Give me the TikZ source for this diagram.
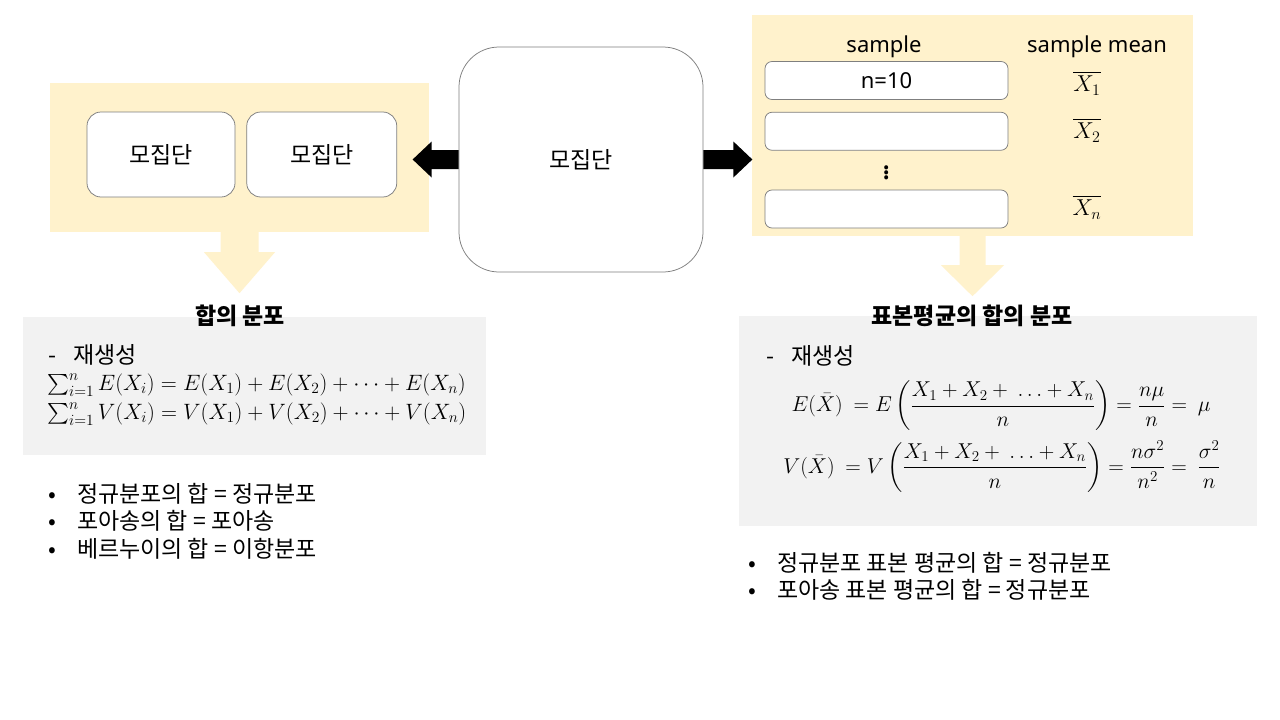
\RequirePackage{fix-cm}
\documentclass[tikz,border=0pt]{standalone}
\usepackage{fontspec}
\usepackage{amsmath}
\setmainfont{Noto Sans CJK KR}
\newfontfamily\latinfont{Noto Sans}
\usetikzlibrary{
  positioning,
  calc}
\definecolor{panelcolor}{RGB}{255,242,204}
\definecolor{notecolor}{RGB}{242,242,242}
\definecolor{edgecolor}{RGB}{127,127,127}
\newcommand{\bodyfont}{\fontsize{23}{27.5}\selectfont}
\newcommand{\formulafont}{\fontsize{21.5}{26}\selectfont}
\newcommand{\samplefont}{\latinfont\fontsize{22}{26}\selectfont}
\tikzset{
  %% panel : yellow background of a group
  panel/.style={
    rectangle,
    fill=panelcolor,
    inner sep=0pt
  },
  %% note : grey background of a result
  note/.style={
    rectangle,
    fill=notecolor,
    inner sep=0pt
  },
  %% popbox : a population
  popbox/.style={
    rectangle,
    rounded corners=14pt,
    draw=edgecolor,
    line width=0.75pt,
    fill=white,
    minimum width=148pt,
    minimum height=85pt,
    font=\bodyfont,
    align=center
  },
  %% samplebox : one sample
  samplebox/.style={
    rectangle,
    rounded corners=7pt,
    draw=edgecolor,
    line width=0.75pt,
    fill=white,
    minimum width=243pt,
    minimum height=38pt,
    font=\samplefont,
    align=center
  },
  %% label : plain text
  label/.style={
    inner sep=0pt,
    font=\bodyfont,
    align=left
  },
  %% formula : a line of mathematics
  formula/.style={
    inner sep=0pt,
    font=\formulafont
  },
  %% heading : title of a result
  heading/.style={
    inner sep=0pt,
    font=\bodyfont\bfseries
  },
  %% blockarrow : thick arrows between the groups
  blockarrow/.style={fill=black},
  flowarrow/.style={fill=panelcolor}
}

\begin{document}
\begin{tikzpicture}
  [x=1pt,
  y=-1pt]

  \useasboundingbox [fill=white] (0,0) rectangle (1280,720);

  %% Population in the middle
  \node (population) [popbox, minimum width=244pt, minimum height=225pt,
    rounded corners=40pt] at (581,159.5) {모집단};

  %% Sum of populations (left)
  \node (sumpanel) [panel, minimum width=379pt, minimum height=149pt]
    at (239.5,157.5) {};
  \node (popa) [popbox] at (161,154.5) {모집단};
  \node (popb) [popbox, right=11pt of popa, minimum width=150pt] {모집단};

  %% Samples (right)
  \node (samplepanel) [panel, minimum width=441pt, minimum height=221pt]
    at (972.5,125.5) {};
  \node (sample1) [samplebox] at (886.5,80.5) {n=10};
  \node (sample2) [samplebox, below=12pt of sample1] {};
  \node (sample3) [samplebox] at (886.5,209) {};
  \node (sampledots) [formula, font=\fontsize{30}{30}\selectfont]
    at (886.5,170) {$\vdots$};
  \node (samplehead) [label, font=\samplefont] at (884,47) {sample};
  \node (meanhead) [label, font=\samplefont] at (1097,47) {sample mean};
  \node (mean1) [formula, font=\fontsize{23}{26}\selectfont]
    at (1087,83) {$\overline{X_1}$};
  \node (mean2) [formula, font=\fontsize{23}{26}\selectfont]
    at (1087,130) {$\overline{X_2}$};
  \node (meann) [formula, font=\fontsize{23}{26}\selectfont]
    at (1087,207) {$\overline{X_n}$};

  %% Arrows
  \fill [blockarrow] ($(population.west)+(0,-9.5)$) -- ++(-27,0) -- ++(0,-8.5)
    -- ++(-19,18) -- ++(19,18) -- ++(0,-8.5) -- ++(27,0) -- cycle;
  \fill [blockarrow] ($(population.east)+(0,-9.5)$) -- ++(30,0) -- ++(0,-8.5)
    -- ++(19,18) -- ++(-19,18) -- ++(0,-8.5) -- ++(-30,0) -- cycle;
  \fill [flowarrow] ($(sumpanel.south)+(-19,0)$) -- ++(0,20) -- ++(-16.5,0)
    -- ++(35.5,41) -- ++(35.5,-41) -- ++(-16.5,0) -- ++(0,-20) -- cycle;
  \fill [flowarrow] ($(samplepanel.south)+(-13,0)$) -- ++(0,29) -- ++(-18.5,0)
    -- ++(31.5,31) -- ++(31.5,-31) -- ++(-18.5,0) -- ++(0,-29) -- cycle;

  %% Result: sum (left)
  \node (sumnote) [note, minimum width=463pt, minimum height=138pt]
    at (254.5,386) {};
  \node (sumhead) [heading] at (240,316) {합의 분포};
  \node (sumrep) [label, anchor=west] at (48,355) {-\hspace{17pt}재생성};
  \node (sumE) [formula, font=\fontsize{22.2}{26}\selectfont, anchor=west]
    at (47,385) {%
    $\sum_{i=1}^{n} E(X_i) = E(X_1) + E(X_2) + \cdots + E(X_n)$};
  \node (sumV) [formula, font=\fontsize{22.2}{26}\selectfont, anchor=west]
    at (47,414) {%
    $\sum_{i=1}^{n} V(X_i) = V(X_1) + V(X_2) + \cdots + V(X_n)$};
  \node (sumlist) [label, anchor=north west] at (48,483) {%
    •\hspace{21pt}정규분포의 합 = 정규분포\\
    •\hspace{21pt}포아송의 합 = 포아송\\
    •\hspace{21pt}베르누이의 합 = 이항분포};

  %% Result: sum of sample means (right)
  \node (meannote) [note, minimum width=518pt, minimum height=210pt]
    at (998,421) {};
  \node (meantitle) [heading] at (972,316) {표본평균의 합의 분포};
  \node (meanrep) [label, anchor=west] at (766,356) {-\hspace{17pt}재생성};
  \node (meanE) [formula] at (1001,406) {%
    $\displaystyle E(\bar{X})\ = E\left(\frac{X_1 + X_2 +\ \ldots + X_n}{n}\right)
    = \frac{n\mu}{n} =\ \mu$};
  \node (meanV) [formula] at (1002,467) {%
    $\displaystyle V(\bar{X})\ = V\left(\frac{X_1 + X_2 +\ \ldots + X_n}{n}\right)
    = \frac{n\sigma^2}{n^2} =\ \frac{\sigma^2}{n}$};
  \node (meanlist) [label, anchor=north west] at (748,552) {%
    •\hspace{21pt}정규분포 표본 평균의 합 = 정규분포\\
    •\hspace{21pt}포아송 표본 평균의 합 = 정규분포};

\end{tikzpicture}
\end{document}
